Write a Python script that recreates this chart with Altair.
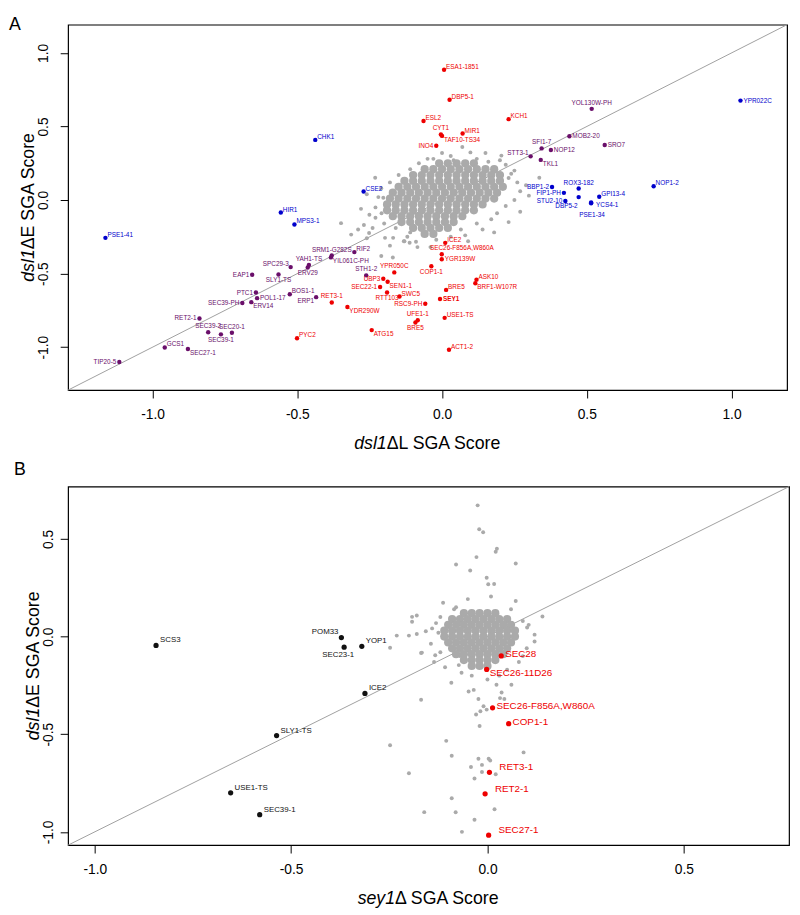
import altair as alt
import pandas as pd

FONT = "Liberation Sans"

# ---------------- Panel A data ----------------
a_names = ["ESA1-1851", "DBP5-1", "ESL2", "CYT1", "TAF10-TS34", "MIR1", "INO4", "KCH1",
           "ICE2", "SEC26-F856A,W860A", "YGR139W", "COP1-1", "ASK10", "BRF1-W107R", "BRE5", "SEY1",
           "YPR050C", "UBP3", "SEN1-1", "SEC22-1", "RTT103", "SWC5", "RSC9-PH", "UFE1-1", "BRE5",
           "USE1-TS", "ACT1-2", "RET3-1", "YDR290W", "ATG15", "PYC2",
           "CHK1", "CSE2", "HIR1", "MPS3-1", "PSE1-41", "YPR022C", "NOP1-2", "BBP1-2", "ROX3-182",
           "FIP1-PH", "GPI13-4", "STU2-10", "DBP5-2", "YCS4-1", "PSE1-34",
           "YOL130W-PH", "MOB2-20", "SFI1-7", "NOP12", "SRO7", "STT3-1", "TKL1", "SRM1-G282S",
           "YIL061C-PH", "RIF2", "YAH1-TS", "ERV29", "SPC29-3", "EAP1", "SLY1-TS", "BOS1-1", "ERP1",
           "STH1-2", "PTC1", "POL1-17", "SEC39-PH", "ERV14", "RET2-1", "SEC39-2", "SEC20-1",
           "SEC39-1", "GCS1", "SEC27-1", "TIP20-5"]
a_x = [0.007, 0.026, -0.064, -0.004, 0.000, 0.071, -0.020, 0.230,
       0.011, -0.001, -0.001, -0.037, 0.119, 0.115, 0.014, -0.007,
       -0.165, -0.203, -0.188, -0.214, -0.190, -0.147, -0.058, -0.084, -0.092,
       0.009, 0.024, -0.381, -0.327, -0.243, -0.501,
       -0.438, -0.271, -0.557, -0.510, -1.163, 1.031, 0.731, 0.380, 0.472,
       0.421, 0.543, 0.426, 0.472, 0.515, 0.515,
       0.517, 0.440, 0.344, 0.376, 0.562, 0.306, 0.341, -0.381,
       -0.384, -0.303, -0.460, -0.464, -0.523, -0.656, -0.565, -0.526, -0.435,
       -0.262, -0.643, -0.639, -0.690, -0.659, -0.838, -0.808, -0.726,
       -0.764, -0.958, -0.878, -1.115]
a_y = [0.886, 0.682, 0.537, 0.446, 0.436, 0.452, 0.369, 0.550,
       -0.291, -0.369, -0.403, -0.450, -0.541, -0.566, -0.611, -0.673,
       -0.492, -0.535, -0.555, -0.591, -0.629, -0.656, -0.705, -0.817, -0.832,
       -0.801, -1.018, -0.696, -0.727, -0.884, -0.940,
       0.409, 0.058, -0.085, -0.166, -0.257, 0.676, 0.094, 0.089, 0.078,
       0.049, 0.022, -0.007, 0.020, -0.016, -0.022,
       0.620, 0.434, 0.351, 0.340, 0.374, 0.297, 0.273, -0.377,
       -0.390, -0.354, -0.441, -0.459, -0.456, -0.508, -0.506, -0.640, -0.660,
       -0.512, -0.629, -0.667, -0.700, -0.694, -0.805, -0.899, -0.902,
       -0.913, -1.002, -1.013, -1.101]
a_grp = (["red"] * 31) + (["blue"] * 15) + (["purple"] * 29)
a_pos = ["ar", "ar", "ar", "a", "br", "ar", "l", "ar",
         "ar", "a2", "r", "b", "ar", "br", "ar", "rB",
         "a", "l", "br", "l", "b", "ar", "l", "a", "b",
         "ar", "ar", "a", "br", "br", "ar",
         "ar", "ar", "ar", "ar", "ar", "r", "ar", "l", "a",
         "l", "ar", "l", "bl2", "r2", "b2",
         "a", "r", "a", "r", "r", "al", "br", "a",
         "br", "ar", "a", "b", "al", "l", "b", "ar", "bl",
         "a", "l", "r", "l", "br", "l", "a", "a",
         "b", "ar", "br", "l"]

# grey background genes, panel A (scattered ones)
a_grey_x = [0.098, 0.205, 0.239, 0.336, -0.231, -0.203, -0.166, -0.349, -0.314, -0.251, -0.252, -0.209,
            -0.197, -0.169, -0.132, -0.112, -0.090, -0.170, -0.130, 0.230, -0.210, -0.085, -0.040, 0.065,
            0.140, 0.070, 0.030, -0.050, 0.120, 0.160, 0.220, 0.250, 0.260, 0.270, 0.250, 0.220, 0.190,
            0.170, 0.120, 0.080, 0.030, -0.020, -0.110, -0.160, -0.200, -0.230, -0.230, -0.220, -0.210,
            -0.180, -0.150, -0.110, -0.080, -0.030, 0.000, 0.150, 0.290, 0.300, -0.270, -0.290, -0.260,
            -0.180, -0.280, -0.260, 0.090, 0.180, 0.270, 0.200, 0.230, 0.110, 0.040, -0.120, -0.240]
a_grey_y = [0.324, 0.302, 0.179, 0.152, 0.152, 0.015, 0.045, -0.157, -0.235, -0.100, -0.224, -0.090,
            -0.257, -0.257, -0.280, -0.290, -0.284, -0.390, -0.280, -0.150, -0.380, -0.320, -0.320, -0.200,
            -0.200, 0.360, 0.300, 0.280, 0.280, 0.260, 0.240, 0.200, 0.120, 0.060, 0.000, -0.040, -0.090,
            -0.130, -0.160, -0.240, -0.250, -0.270, -0.220, -0.190, -0.160, -0.120, -0.050, 0.020, 0.080,
            0.120, 0.170, 0.210, 0.250, 0.280, 0.320, 0.320, 0.100, 0.030, -0.170, -0.200, -0.260,
            -0.310, -0.060, 0.040, -0.280, -0.220, -0.080, 0.270, 0.150, 0.250, 0.270, -0.250, -0.190]
# dense core of panel A: (y, [x values])
a_core_rows = [
    (0.25, [-0.01, 0.02, 0.05, 0.08, 0.11]),
    (0.21, [-0.06, -0.03, 0.00, 0.03, 0.06, 0.09, 0.12, 0.15, 0.18]),
    (0.17, [-0.10, -0.07, -0.04, -0.01, 0.02, 0.05, 0.08, 0.11, 0.14, 0.17, 0.20]),
    (0.13, [-0.13, -0.10, -0.07, -0.04, -0.01, 0.02, 0.05, 0.08, 0.11, 0.14, 0.17, 0.20]),
    (0.09, [-0.15, -0.12, -0.09, -0.06, -0.03, 0.00, 0.03, 0.06, 0.09, 0.12, 0.15, 0.18, 0.21]),
    (0.05, [-0.17, -0.14, -0.11, -0.08, -0.05, -0.02, 0.01, 0.04, 0.07, 0.10, 0.13, 0.16, 0.19]),
    (0.01, [-0.18, -0.15, -0.12, -0.09, -0.06, -0.03, 0.00, 0.03, 0.06, 0.09, 0.12, 0.15, 0.18]),
    (-0.03, [-0.19, -0.16, -0.13, -0.10, -0.07, -0.04, -0.01, 0.02, 0.05, 0.08, 0.11, 0.14]),
    (-0.07, [-0.19, -0.16, -0.13, -0.10, -0.07, -0.04, -0.01, 0.02, 0.05, 0.08, 0.11]),
    (-0.11, [-0.17, -0.14, -0.11, -0.08, -0.05, -0.02, 0.01, 0.04, 0.07]),
    (-0.15, [-0.14, -0.11, -0.08, -0.05, -0.02, 0.01, 0.04]),
    (-0.19, [-0.10, -0.07, -0.04, -0.01, 0.02]),
    (-0.23, [-0.06, -0.03]),
]

# ---------------- Panel B data ----------------
b_names = ["SCS3", "POM33", "SEC23-1", "YOP1", "ICE2", "SLY1-TS", "USE1-TS", "SEC39-1",
           "SEC28", "SEC26-11D26", "SEC26-F856A,W860A", "COP1-1", "RET3-1", "RET2-1", "SEC27-1"]
b_x = [-0.844, -0.372, -0.365, -0.320, -0.312, -0.537, -0.654, -0.580,
       0.035, -0.002, 0.013, 0.054, 0.005, -0.006, 0.003]
b_y = [-0.045, -0.005, -0.054, -0.050, -0.291, -0.507, -0.800, -0.912,
       -0.099, -0.168, -0.365, -0.446, -0.695, -0.805, -1.017]
b_grp = ["black"] * 8 + ["red"] * 7
b_pos = ["ar", "al", "b", "ar", "ar", "ar", "ar", "ar",
         "r", "br", "r", "r", "ar2", "ar2", "ar2"]

b_grey_x = [-0.025, -0.021, -0.011, 0.024, 0.021, -0.028, 0.072, -0.080, -0.044, -0.002, 0.002, 0.017,
            0.009, 0.072, 0.140, -0.113, -0.050, -0.085, -0.157, -0.169, -0.136, -0.108, 0.120, 0.120,
            0.101, 0.080, -0.192, -0.180, -0.192, -0.231, -0.200, -0.180, -0.248, -0.167, -0.141, -0.131,
            -0.133, -0.144, -0.092, -0.048, -0.035, -0.023, 0.036, 0.043, 0.032, -0.010, -0.002, -0.018,
            -0.029, -0.020, -0.105, -0.091, 0.092, -0.023, 0.003, 0.007, -0.042, -0.014, -0.014, 0.021,
            -0.033, -0.091, -0.081, -0.161, 0.018, -0.033, -0.065, -0.169, -0.248, -0.200, -0.073, -0.066,
            0.023, 0.061, 0.090, 0.100, 0.090, -0.120, -0.120, 0.060, -0.080, 0.050, -0.040, 0.000, 0.030,
            -0.070, 0.105, -0.125]
b_grey_y = [0.672, 0.550, 0.534, 0.450, 0.434, 0.407, 0.374, 0.369, 0.338, 0.301, 0.268, 0.269,
            0.205, 0.182, 0.103, 0.173, 0.192, 0.140, 0.027, -0.084, -0.130, -0.157, 0.010, -0.025,
            0.047, -0.130, 0.101, 0.108, 0.076, 0.005, 0.005, 0.013, -0.057, -0.082, 0.042, 0.069,
            -0.096, -0.037, -0.236, -0.281, -0.273, -0.320, -0.286, -0.320, -0.315, -0.357, -0.374, -0.382,
            -0.399, -0.458, -0.534, -0.610, -0.593, -0.626, -0.626, -0.635, -0.668, -0.657, -0.693, -0.705,
            -0.727, -0.828, -0.900, -0.899, -0.884, -0.938, -1.000, -0.323, -0.556, -0.700, -0.146, -0.185,
            -0.247, -0.247, 0.080, -0.060, -0.100, 0.100, -0.080, 0.140, 0.150, -0.170, -0.200, -0.220, -0.200,
            -0.100, 0.060, 0.020]
b_core_rows = [
    (0.12, [-0.06, -0.04, -0.02, 0.00, 0.02]),
    (0.09, [-0.09, -0.07, -0.05, -0.03, -0.01, 0.01, 0.03, 0.05]),
    (0.06, [-0.10, -0.08, -0.06, -0.04, -0.02, 0.00, 0.02, 0.04, 0.06]),
    (0.03, [-0.11, -0.09, -0.07, -0.05, -0.03, -0.01, 0.01, 0.03, 0.05, 0.07]),
    (0.00, [-0.11, -0.09, -0.07, -0.05, -0.03, -0.01, 0.01, 0.03, 0.05, 0.07]),
    (-0.03, [-0.10, -0.08, -0.06, -0.04, -0.02, 0.00, 0.02, 0.04, 0.06]),
    (-0.06, [-0.09, -0.07, -0.05, -0.03, -0.01, 0.01, 0.03, 0.05]),
    (-0.09, [-0.08, -0.06, -0.04, -0.02, 0.00, 0.02, 0.04]),
    (-0.12, [-0.06, -0.04, -0.02, 0.00, 0.02]),
    (-0.15, [-0.04, -0.02, 0.00]),
]

a_domain = [-1.292, 1.192]
b_domain = [-1.068, 0.768]
a_ticks = [-1.0, -0.5, 0.0, 0.5, 1.0]
b_ticks = [-1.0, -0.5, 0.0, 0.5]

# ---------------- styling ----------------
GROUPS = ["red", "blue", "purple", "black"]
PT_COLORS = ["#EE0000", "#0000CC", "#6A0F6A", "#111111"]
TX_COLORS = ["#F01818", "#2B2BD9", "#862C86", "#222222"]
GREY = "#AAAAAA"

POS_A = {
    "r": dict(align="left", baseline="middle", dx=3, dy=0),
    "r2": dict(align="left", baseline="middle", dx=5, dy=3),
    "rB": dict(align="left", baseline="middle", dx=3, dy=0, fontWeight="bold"),
    "l": dict(align="right", baseline="middle", dx=-3, dy=0),
    "ar": dict(align="left", baseline="bottom", dx=2, dy=0),
    "al": dict(align="right", baseline="bottom", dx=-2, dy=0),
    "a": dict(align="center", baseline="bottom", dx=0, dy=-3),
    "a2": dict(align="left", baseline="bottom", dx=-12, dy=-3),
    "b": dict(align="center", baseline="top", dx=0, dy=3),
    "b2": dict(align="center", baseline="top", dx=1, dy=9),
    "br": dict(align="left", baseline="top", dx=2, dy=1),
    "bl": dict(align="right", baseline="top", dx=-2, dy=1),
    "bl2": dict(align="right", baseline="top", dx=-1, dy=6),
}
POS_B = {
    "r": dict(align="left", baseline="middle", dx=4, dy=-2, fontSize=10),
    "ar": dict(align="left", baseline="bottom", dx=4, dy=-1, fontSize=8),
    "al": dict(align="right", baseline="bottom", dx=-3, dy=-2, fontSize=8),
    "b": dict(align="center", baseline="top", dx=-6, dy=4, fontSize=8),
    "br": dict(align="left", baseline="top", dx=3, dy=-1, fontSize=10),
    "ar2": dict(align="left", baseline="middle", dx=10, dy=-5, fontSize=10),
}

LABEL_EXPR = ("datum.value == 0 ? '0.0' : (datum.value < 0 ? '-' + format(-datum.value, '.1f') "
              ": format(datum.value, '.1f'))")


def rows_to_df(rows):
    xs, ys = [], []
    for yv, xl in rows:
        for xv in xl:
            xs.append(xv)
            ys.append(yv)
    return pd.DataFrame({"x": xs, "y": ys})


def build_panel(names, xs_, ys_, grps, poss, gx, gy, core_rows, domain, ticks, w, h,
                pos_map, fs, pt_size, ylab_pad, letter, letter_x, letter_y, ytitle_x,
                xt_it, xt_rest, xsplit, yt_it, yt_rest, ysplit):
    xs = alt.Scale(domain=domain, nice=False, zero=False)
    ys = alt.Scale(domain=domain, nice=False, zero=False)
    ax_x = alt.Axis(values=ticks, title=None, labelExpr=LABEL_EXPR, grid=False, domain=False,
                    tickSize=8, labelPadding=10)
    ax_y = alt.Axis(values=ticks, title=None, labelExpr=LABEL_EXPR, grid=False, domain=False,
                    tickSize=8, labelPadding=ylab_pad, labelAngle=270, labelAlign="center",
                    labelBaseline="bottom")

    def X():
        return alt.X("x:Q", scale=xs, axis=ax_x)

    def Y():
        return alt.Y("y:Q", scale=ys, axis=ax_y)

    df = pd.DataFrame({"name": names, "x": xs_, "y": ys_, "grp": grps, "pos": poss})
    grey = pd.DataFrame({"x": gx, "y": gy})
    core = rows_to_df(core_rows)
    diag = pd.DataFrame({"x": domain, "y": domain})

    layers = [
        alt.Chart(diag).mark_line(color="#A0A0A0", strokeWidth=1).encode(x=X(), y=Y()),
        alt.Chart(core).mark_circle(size=70, color=GREY, opacity=1).encode(x=X(), y=Y()),
        alt.Chart(grey).mark_circle(size=16, color=GREY, opacity=1).encode(x=X(), y=Y()),
        alt.Chart(df).mark_circle(size=pt_size, opacity=1).encode(
            x=X(), y=Y(),
            color=alt.Color("grp:N", scale=alt.Scale(domain=GROUPS, range=PT_COLORS), legend=None)),
    ]
    for p in sorted(set(poss)):
        props = dict(pos_map[p])
        size = props.pop("fontSize", fs)
        layers.append(
            alt.Chart(df).transform_filter(alt.datum.pos == p)
            .mark_text(font=FONT, fontSize=size, **props)
            .encode(x=X(), y=Y(), text="name:N",
                    color=alt.Color("grp:N", scale=alt.Scale(domain=GROUPS, range=TX_COLORS),
                                    legend=None))
        )
    one = pd.DataFrame({"k": [0]})
    # axis titles (italic gene name + rest)
    layers += [
        alt.Chart(one).mark_text(text=xt_it, font=FONT, fontSize=18, fontStyle="italic",
                                 align="right", baseline="middle", color="black")
        .encode(x=alt.value(xsplit), y=alt.value(h + 55)),
        alt.Chart(one).mark_text(text=xt_rest, font=FONT, fontSize=18,
                                 align="left", baseline="middle", color="black")
        .encode(x=alt.value(xsplit), y=alt.value(h + 55)),
        alt.Chart(one).mark_text(text=yt_it, font=FONT, fontSize=18, fontStyle="italic", angle=270,
                                 align="right", baseline="middle", color="black")
        .encode(x=alt.value(ytitle_x), y=alt.value(ysplit)),
        alt.Chart(one).mark_text(text=yt_rest, font=FONT, fontSize=18, angle=270,
                                 align="left", baseline="middle", color="black")
        .encode(x=alt.value(ytitle_x), y=alt.value(ysplit)),
        alt.Chart(one).mark_text(text=letter, font=FONT, fontSize=18, align="left",
                                 baseline="top", color="black")
        .encode(x=alt.value(letter_x), y=alt.value(letter_y)),
    ]
    return alt.layer(*layers).properties(width=w, height=h)


WA, HA = 730, 371
WB, HB = 732, 364

panel_a = build_panel(a_names, a_x, a_y, a_grp, a_pos, a_grey_x, a_grey_y, a_core_rows,
                      a_domain, a_ticks, WA, HA, POS_A, 6.5, 20, 10, "A", -60, -9, -40,
                      "dsl1", "\u0394L SGA Score", WA / 2 - 41.5,
                      "dsl1", "\u0394E SGA Score", HA / 2 + 42.5)
panel_b = build_panel(b_names, b_x, b_y, b_grp, b_pos, b_grey_x, b_grey_y, b_core_rows,
                      b_domain, b_ticks, WB, HB, POS_B, 8, 28, 5, "B", -55, -26, -35,
                      "sey1", "\u0394 SGA Score", WB / 2 - 34,
                      "dsl1", "\u0394E SGA Score", HB / 2 + 42.5)

chart = alt.concat(panel_a, panel_b, columns=1, spacing=6, align="none").properties(
    padding=0
).configure_view(stroke="black", strokeWidth=1.2).configure_axis(
    tickColor="black", tickWidth=1, labelFont=FONT, labelFontSize=14, labelColor="black"
)

chart.save("out.html", embed_options={"renderer": "svg", "actions": False})
